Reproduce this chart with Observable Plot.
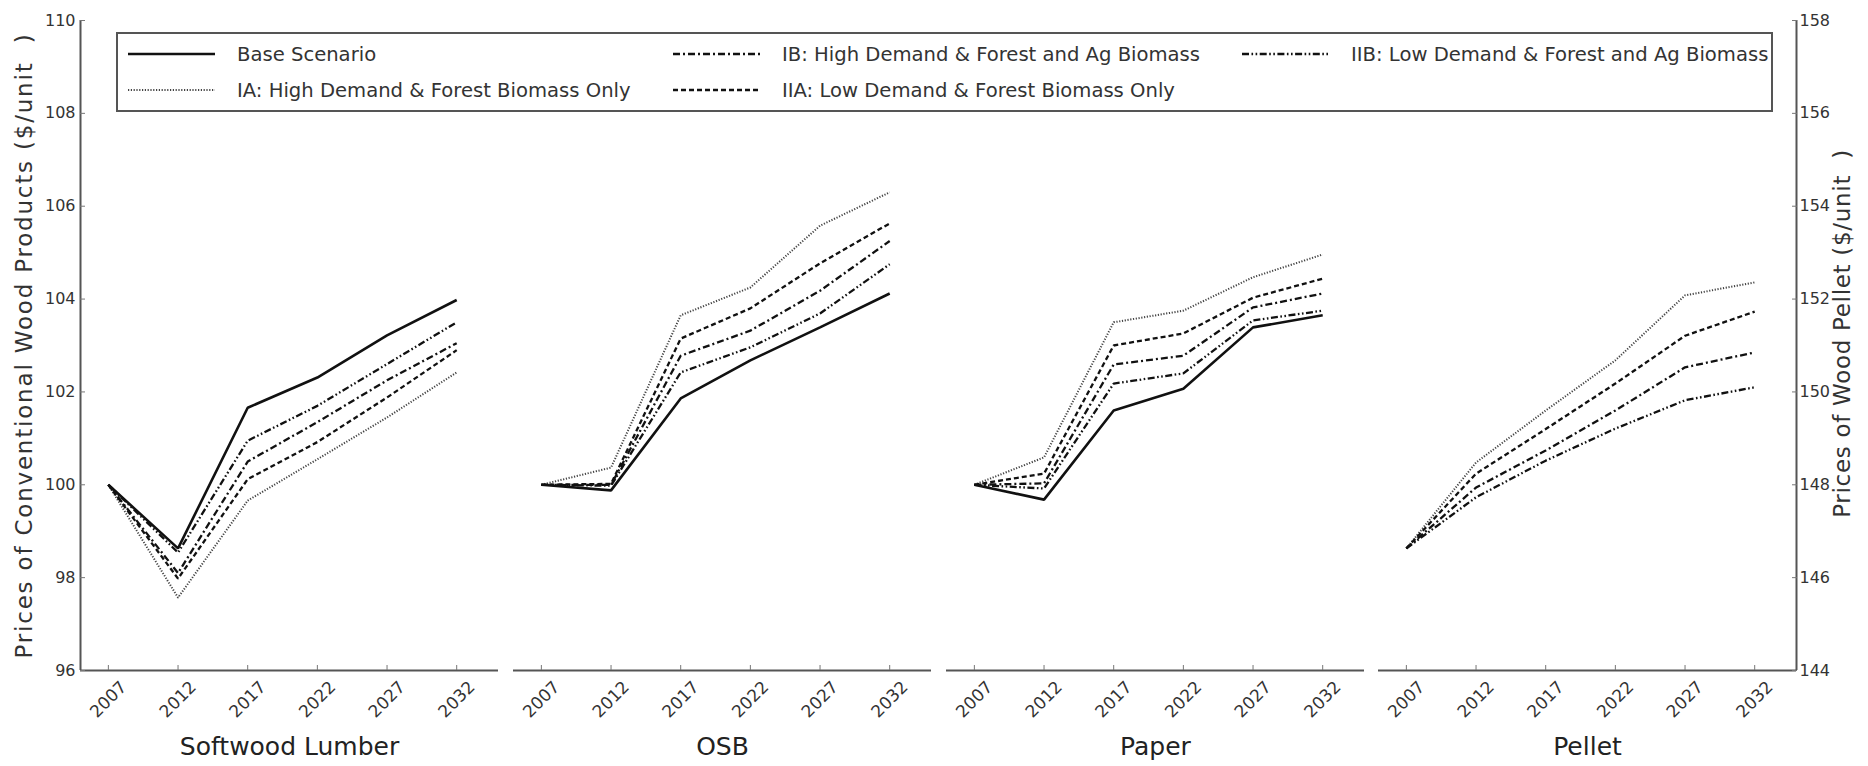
<!DOCTYPE html>
<html><head><meta charset="utf-8">
<script src="https://cdn.jsdelivr.net/npm/d3@7"></script>
<script src="https://cdn.jsdelivr.net/npm/@observablehq/plot@0.6"></script>
<style>
body{margin:0;background:#fff;}
#chart{position:relative;width:1868px;height:766px;overflow:hidden;font-family:"DejaVu Sans",sans-serif;color:#222;}
#chart svg.panel{position:absolute;top:0;}
#legend{position:absolute;left:116px;top:32px;width:1657px;height:80px;box-sizing:border-box;border:2px solid #555;background:#fff;}
.entry{position:absolute;display:flex;align-items:center;height:30px;font-size:19.6px;color:#333;white-space:nowrap;}
.entry svg{margin-right:22px;}
</style></head>
<body>
<div id="chart"><div id="legend"></div></div>
<script>
// ---------- data ----------
const years = [2007, 2012, 2017, 2022, 2027, 2032];
const scenarios = ["Base Scenario", "IA: High Demand & Forest Biomass Only", "IB: High Demand & Forest and Ag Biomass", "IIA: Low Demand & Forest Biomass Only", "IIB: Low Demand & Forest and Ag Biomass"];
const products = ["Softwood Lumber", "OSB", "Paper", "Pellet"];
const leftTicks = [96, 98, 100, 102, 104, 106, 108, 110];
const rightTicks = [144, 146, 148, 150, 152, 154, 156, 158];
const leftLabel = "Prices of Conventional Wood Products ($/unit  )";
const rightLabel = "Prices of Wood Pellet ($/unit  )";

const lumberBase = [100, 98.63, 101.66, 102.31, 103.22, 103.98];
const lumberIA   = [100, 97.57, 99.66, 100.55, 101.45, 102.42];
const lumberIB   = [100, 98.10, 100.50, 101.35, 102.25, 103.05];
const lumberIIA  = [100, 97.98, 100.12, 100.92, 101.88, 102.90];
const lumberIIB  = [100, 98.54, 100.95, 101.70, 102.60, 103.50];

const osbBase = [100, 99.88, 101.86, 102.68, 103.39, 104.12];
const osbIA   = [100, 100.37, 103.65, 104.25, 105.58, 106.30];
const osbIB   = [100, 100.00, 102.78, 103.32, 104.18, 105.25];
const osbIIA  = [100, 100.02, 103.15, 103.80, 104.77, 105.63];
const osbIIB  = [100, 99.98, 102.42, 102.96, 103.69, 104.75];

const paperBase = [100, 99.68, 101.60, 102.07, 103.39, 103.65];
const paperIA   = [100, 100.59, 103.50, 103.75, 104.47, 104.96];
const paperIB   = [100, 100.03, 102.59, 102.78, 103.82, 104.12];
const paperIIA  = [100, 100.24, 103.00, 103.26, 104.03, 104.44];
const paperIIB  = [100, 99.92, 102.18, 102.40, 103.54, 103.75];

const pelletIA  = [146.63, 148.48, 149.60, 150.68, 152.08, 152.36];
const pelletIB  = [146.63, 147.94, 148.74, 149.60, 150.53, 150.85];
const pelletIIA = [146.63, 148.24, 149.20, 150.18, 151.21, 151.73];
const pelletIIB = [146.63, 147.73, 148.52, 149.21, 149.82, 150.10];

// ---------- styles ----------
const lineStyle = [
  {dash: null, width: 2.6, color: "#111"},
  {dash: "1.2,1.6", width: 2, color: "#444"},
  {dash: "7,3,2,3", width: 2.3, color: "#111"},
  {dash: "5,3", width: 2.3, color: "#111"},
  {dash: "7,2.5,1.6,2.5,1.6,2.5", width: 2.3, color: "#111"}
];

const panelData = [
  [lumberBase, lumberIA, lumberIB, lumberIIA, lumberIIB],
  [osbBase, osbIA, osbIB, osbIIA, osbIIB],
  [paperBase, paperIA, paperIB, paperIIA, paperIIB],
  [null, pelletIA, pelletIB, pelletIIA, pelletIIB]
];

const chart = document.getElementById("chart");
const panelLefts = [80, 513, 946, 1378];
const panelW = 418;
const W = 1868, H = 766, MT = 20, MB = 96;

panelLefts.forEach((pl, i) => {
  const isLeft = i === 0, isRight = i === 3;
  const ml = isLeft ? 80 : 12;
  const mr = isRight ? (W - pl - panelW - 1) : 12;
  const yDomain = isRight ? [144, 158] : [96, 110];
  const marks = [];
  panelData[i].forEach((vals, s) => {
    if (!vals) return;
    const st = lineStyle[s];
    const rows = years.map((y, k) => ({year: y, value: vals[k], scenario: scenarios[s]}));
    marks.push(Plot.line(rows, {x: "year", y: "value", stroke: st.color, strokeWidth: st.width,
      strokeDasharray: st.dash, strokeLinejoin: "miter", strokeLinecap: "butt"}));
  });
  marks.push(Plot.ruleY([yDomain[0]], {stroke: "#555", strokeWidth: 2}));
  if (isLeft) marks.push(Plot.ruleX([2005], {stroke: "#555", strokeWidth: 2}));
  if (isRight) marks.push(Plot.ruleX([2035], {stroke: "#555", strokeWidth: 2}));
  // x ticks (inward) and labels
  marks.push(Plot.axisX({ticks: years, tickSize: -5, text: null, label: null, stroke: "#777"}));
  marks.push(Plot.axisX({ticks: years, tickSize: 0, tickRotate: -45, textAnchor: "middle", lineAnchor: "middle",
    tickPadding: 29, fontSize: 17, tickFormat: d => String(d), label: null, fill: "#333"}));
  if (isLeft) {
    marks.push(Plot.axisY({anchor: "left", ticks: leftTicks, tickSize: -5, tickPadding: 10, fontSize: 16,
      tickFormat: d => String(d), label: null, fill: "#333", stroke: "#777"}));
    marks.push(Plot.text([leftLabel], {frameAnchor: "left", textAnchor: "middle", rotate: -90, dx: -56, fontSize: 23, fill: "#333"}));
  }
  if (isRight) {
    marks.push(Plot.axisY({anchor: "right", ticks: rightTicks, tickSize: -5, tickPadding: 8, fontSize: 16,
      tickFormat: d => String(d), label: null, fill: "#333", stroke: "#777"}));
    marks.push(Plot.text([rightLabel], {frameAnchor: "right", textAnchor: "middle", rotate: -90, dx: 46, dy: -12, fontSize: 23, fill: "#333"}));
  }
  marks.push(Plot.text([products[i]], {frameAnchor: "bottom", dy: 84, fontSize: 25, fill: "#222"}));

  const svg = Plot.plot({
    width: ml + panelW + mr, height: H,
    marginLeft: ml, marginRight: mr, marginTop: MT, marginBottom: MB,
    x: {domain: [2005, 2035], axis: null},
    y: {domain: yDomain, axis: null},
    style: {fontFamily: "DejaVu Sans, sans-serif", background: "transparent", overflow: "visible"},
    marks
  });
  svg.querySelectorAll("text").forEach(t => {
    if (t.textContent === leftLabel) t.style.letterSpacing = "1.8px";
    if (t.textContent === rightLabel) t.style.letterSpacing = "0.7px";
  });
  svg.classList.add("panel");
  svg.style.left = (pl - ml) + "px";
  chart.appendChild(svg);
});

// ---------- legend ----------
const legend = document.getElementById("legend");
const legendPos = [
  {s: 0, x: 10, y: 5}, {s: 1, x: 10, y: 41},
  {s: 2, x: 555, y: 5}, {s: 3, x: 555, y: 41},
  {s: 4, x: 1124, y: 5}
];
legendPos.forEach(p => {
  const st = lineStyle[p.s];
  const e = document.createElement("div");
  e.className = "entry";
  e.style.left = p.x + "px"; e.style.top = p.y + "px";
  const ns = "http://www.w3.org/2000/svg";
  const sv = document.createElementNS(ns, "svg");
  sv.setAttribute("width", 87); sv.setAttribute("height", 10);
  const ln = document.createElementNS(ns, "line");
  ln.setAttribute("x1", 0); ln.setAttribute("x2", 87); ln.setAttribute("y1", 5); ln.setAttribute("y2", 5);
  ln.setAttribute("stroke", st.color); ln.setAttribute("stroke-width", st.width);
  if (st.dash) ln.setAttribute("stroke-dasharray", st.dash);
  sv.appendChild(ln);
  e.appendChild(sv);
  const t = document.createElement("span");
  t.textContent = scenarios[p.s];
  e.appendChild(t);
  legend.appendChild(e);
});
</script>
</body></html>
